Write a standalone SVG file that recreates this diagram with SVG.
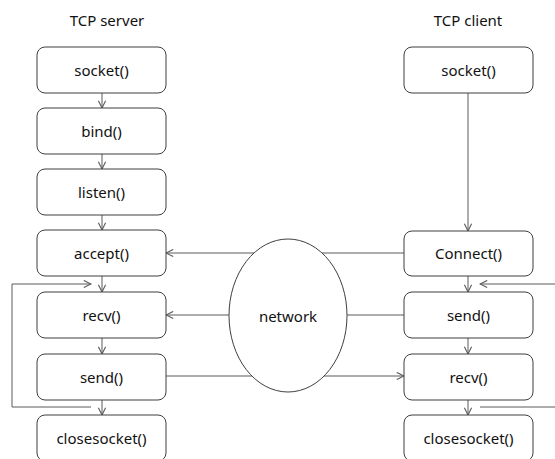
<svg xmlns="http://www.w3.org/2000/svg" width="555" height="459" viewBox="0 0 555 459">
<style>
.box{fill:#fff;stroke:#3f3f3f;stroke-width:1}
.t{font-family:"Noto Sans","Open Sans",sans-serif;font-size:15px;fill:#111;text-anchor:middle;dominant-baseline:central}
.ln{fill:none;stroke:#5a5a5a;stroke-width:1}
.ar{marker-end:url(#a)}
</style>
<defs>
<marker id="a" viewBox="0 0 10 10" refX="9" refY="5" markerWidth="9" markerHeight="9" markerUnits="userSpaceOnUse" orient="auto">
<path d="M1 1L9 5L1 9" fill="none" stroke="#5a5a5a" stroke-width="1.2"/>
</marker>
</defs>
<text class="t" x="107" y="20">TCP server</text>
<text class="t" x="468" y="20">TCP client</text>
<g id="connectors">
<line class="ln ar" x1="102" y1="93" x2="102" y2="108"/>
<line class="ln ar" x1="102" y1="154" x2="102" y2="169"/>
<line class="ln ar" x1="102" y1="215" x2="102" y2="230"/>
<line class="ln ar" x1="102" y1="276" x2="102" y2="292"/>
<line class="ln ar" x1="102" y1="338" x2="102" y2="354"/>
<line class="ln ar" x1="102" y1="400" x2="102" y2="415"/>
<line class="ln ar" x1="468" y1="93" x2="468" y2="231"/>
<line class="ln ar" x1="468" y1="276" x2="468" y2="292"/>
<line class="ln ar" x1="468" y1="338" x2="468" y2="354"/>
<line class="ln ar" x1="468" y1="400" x2="468" y2="415"/>
<path class="ln ar" d="M91 407H12V284H91"/>
<path class="ln ar" d="M480 407H565V284H480"/>
<line class="ln ar" x1="404" y1="253" x2="166" y2="253"/>
<line class="ln ar" x1="404" y1="315" x2="166" y2="315"/>
<line class="ln ar" x1="166" y1="376" x2="404" y2="376"/>
</g>
<g id="network">
<ellipse cx="288" cy="315.5" rx="59" ry="76.5" fill="#fff" stroke="#3f3f3f"/>
<text class="t" x="288" y="316">network</text>
</g>
<g id="s_socket"><rect class="box" x="37" y="47" width="129" height="46" rx="8"/><text class="t" x="101.5" y="70">socket()</text></g>
<g id="s_bind"><rect class="box" x="37" y="108" width="129" height="46" rx="8"/><text class="t" x="101.5" y="131">bind()</text></g>
<g id="s_listen"><rect class="box" x="37" y="169" width="129" height="46" rx="8"/><text class="t" x="101.5" y="192">listen()</text></g>
<g id="s_accept"><rect class="box" x="37" y="230" width="129" height="46" rx="8"/><text class="t" x="101.5" y="253">accept()</text></g>
<g id="s_recv"><rect class="box" x="37" y="292" width="129" height="46" rx="8"/><text class="t" x="101.5" y="315">recv()</text></g>
<g id="s_send"><rect class="box" x="37" y="354" width="129" height="46" rx="8"/><text class="t" x="101.5" y="377">send()</text></g>
<g id="s_close"><rect class="box" x="37" y="415" width="129" height="46" rx="8"/><text class="t" x="101.5" y="438">closesocket()</text></g>
<g id="c_socket"><rect class="box" x="404" y="47" width="129" height="46" rx="8"/><text class="t" x="468.5" y="70">socket()</text></g>
<g id="c_connect"><rect class="box" x="404" y="231" width="129" height="45" rx="8"/><text class="t" x="468.5" y="253">Connect()</text></g>
<g id="c_send"><rect class="box" x="404" y="292" width="129" height="46" rx="8"/><text class="t" x="468.5" y="315">send()</text></g>
<g id="c_recv"><rect class="box" x="404" y="354" width="129" height="46" rx="8"/><text class="t" x="468.5" y="377">recv()</text></g>
<g id="c_close"><rect class="box" x="404" y="415" width="129" height="46" rx="8"/><text class="t" x="468.5" y="438">closesocket()</text></g>
</svg>
